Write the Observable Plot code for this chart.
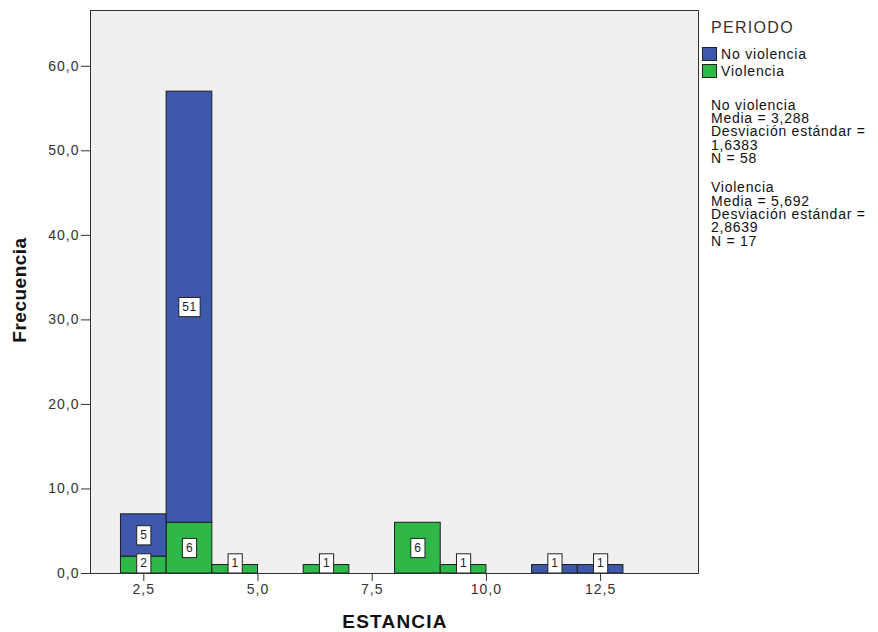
<!DOCTYPE html>
<html>
<head>
<meta charset="utf-8">
<script src="https://cdn.jsdelivr.net/npm/d3@7"></script>
<script src="https://cdn.jsdelivr.net/npm/@observablehq/plot@0.6"></script>
<style>
  body { margin: 0; background: #fff; font-family: "Liberation Sans", Arial, sans-serif; }
  #chart { position: relative; width: 878px; height: 632px; }
  #chart svg { display: block; }
  .legend-title { position: absolute; left: 711px; top: 18px; font-size: 16px; letter-spacing: 1.3px; color: #333; line-height: 20px; }
  .legend-item { position: absolute; left: 702px; height: 14px; display: flex; align-items: center; font-size: 14px; letter-spacing: 0.8px; color: #111; }
  .legend-item .sw { width: 13px; height: 12px; border: 1px solid #222; margin-right: 4px; box-sizing: content-box; }
  .stats { position: absolute; left: 711px; font-size: 14px; letter-spacing: 0.75px; line-height: 13.4px; color: #111; white-space: pre; }
</style>
</head>
<body>
<div id="chart"></div>
<script>
// ESTANCIA histogram by PERIODO (bins of width 1, stacked)
const periods = ["No violencia", "Violencia"];
const periodColors = ["#3E58AC", "#2EB848"];

const noViolenciaBins = [2, 3, 11, 12];
const noViolenciaCounts = [5, 51, 1, 1];

const violenciaBins = [2, 3, 4, 6, 8, 9];
const violenciaCounts = [2, 6, 1, 1, 6, 1];

const binWidth = 1;

const xTicks = [2.5, 5, 7.5, 10, 12.5];
const yTicks = [0, 10, 20, 30, 40, 50, 60];

// Summary statistics shown beside the legend
const statNames = ["No violencia", "Violencia"];
const statMedia = ["3,288", "5,692"];
const statDesv = ["1,6383", "2,8639"];
const statN = [58, 17];

// Stack Violencia at the bottom, No violencia on top
const series = [
  {period: "Violencia", bins: violenciaBins, counts: violenciaCounts},
  {period: "No violencia", bins: noViolenciaBins, counts: noViolenciaCounts}
];
const stackBase = new Map();
const rows = [];
for (const s of series) {
  s.bins.forEach((b, i) => {
    const y1 = stackBase.get(b) || 0;
    const y2 = y1 + s.counts[i];
    stackBase.set(b, y2);
    rows.push({period: s.period, x1: b, x2: b + binWidth, y1, y2, count: s.counts[i]});
  });
}

const fmt = d => d.toFixed(1).replace(".", ",");

const plot = Plot.plot({
  width: 878,
  height: 632,
  marginLeft: 90,
  marginRight: 180,
  marginTop: 10,
  marginBottom: 59,
  style: {background: "white", fontFamily: "'Liberation Sans', Arial, sans-serif", fontSize: "14px", color: "#333", letterSpacing: "1px"},
  x: {domain: [1.333, 14.643], ticks: xTicks, tickFormat: fmt, tickSize: 8, tickPadding: 3, label: null},
  y: {domain: [0, 66.6], ticks: yTicks, tickFormat: fmt, tickSize: 9, tickPadding: 2, label: null},
  color: {domain: periods, range: periodColors},
  marks: [
    Plot.frame({fill: "#f0f0f0", stroke: "none"}),
    Plot.rect(rows, {x1: "x1", x2: "x2", y1: "y1", y2: "y2", fill: "period", stroke: "#1e1e1e", strokeWidth: 1}),
    Plot.text(rows, {x: d => (d.x1 + d.x2) / 2, y: d => (d.y1 + d.y2) / 2, text: d => String(d.count), fontSize: 12, fill: "#222"}),
    Plot.frame({stroke: "#333"})
  ]
});

const chart = document.getElementById("chart");
chart.appendChild(plot);

const svg = d3.select(plot.tagName.toLowerCase() === "svg" ? plot : plot.querySelector("svg"));

// Baseline of the count axis, so label boxes never drop below it
let yZero = 573;
try { yZero = plot.scale("y").apply(0); } catch (e) {}

// White boxes behind the count labels
svg.selectAll('g[aria-label="text"] text').each(function () {
  this.setAttribute("letter-spacing", "0.5px");
  const bb = this.getBBox();
  const padX = 3.5, padY = 2.6;
  const boxH = bb.height + 2 * padY;
  let top = bb.y - padY;
  const t = this.getAttribute("transform") || "";
  // convert bottom edge to plot coordinates to clamp against the axis
  const ctm = this.getCTM();
  const svgCtm = this.ownerSVGElement.getCTM();
  const offsetY = ctm && svgCtm ? ctm.f - svgCtm.f : 0;
  let shift = 0;
  if (top + boxH + offsetY > yZero) shift = yZero - (top + boxH + offsetY);
  const r = document.createElementNS("http://www.w3.org/2000/svg", "rect");
  r.setAttribute("x", bb.x - padX);
  r.setAttribute("y", top);
  r.setAttribute("width", bb.width + 2 * padX);
  r.setAttribute("height", boxH);
  r.setAttribute("fill", "#fff");
  r.setAttribute("stroke", "#222");
  r.setAttribute("stroke-width", "1");
  const tr = (shift ? `translate(0,${shift}) ` : "") + t;
  if (tr.trim()) {
    r.setAttribute("transform", tr);
    this.setAttribute("transform", tr);
  }
  this.parentNode.insertBefore(r, this);
});

// Axis titles
svg.append("text")
  .attr("transform", "translate(26,290) rotate(-90)")
  .attr("text-anchor", "middle")
  .attr("font-size", 19)
  .attr("font-weight", "bold")
  .attr("letter-spacing", "0.5px")
  .attr("fill", "#111")
  .text("Frecuencia");
svg.append("text")
  .attr("x", 395)
  .attr("y", 628)
  .attr("text-anchor", "middle")
  .attr("font-size", 19)
  .attr("font-weight", "bold")
  .attr("letter-spacing", "1.2px")
  .attr("fill", "#111")
  .text("ESTANCIA");

// Legend
const legendTitle = document.createElement("div");
legendTitle.className = "legend-title";
legendTitle.textContent = "PERIODO";
chart.appendChild(legendTitle);

periods.forEach((p, i) => {
  const item = document.createElement("div");
  item.className = "legend-item";
  item.style.top = (47 + i * 17) + "px";
  const sw = document.createElement("span");
  sw.className = "sw";
  sw.style.background = periodColors[i];
  item.appendChild(sw);
  item.appendChild(document.createTextNode(p));
  chart.appendChild(item);
});

statNames.forEach((name, i) => {
  const block = document.createElement("div");
  block.className = "stats";
  block.style.top = (98.5 + i * 82.7) + "px";
  block.textContent = `${name}\nMedia = ${statMedia[i]}\nDesviación estándar =\n${statDesv[i]}\nN = ${statN[i]}`;
  chart.appendChild(block);
});
</script>
</body>
</html>
